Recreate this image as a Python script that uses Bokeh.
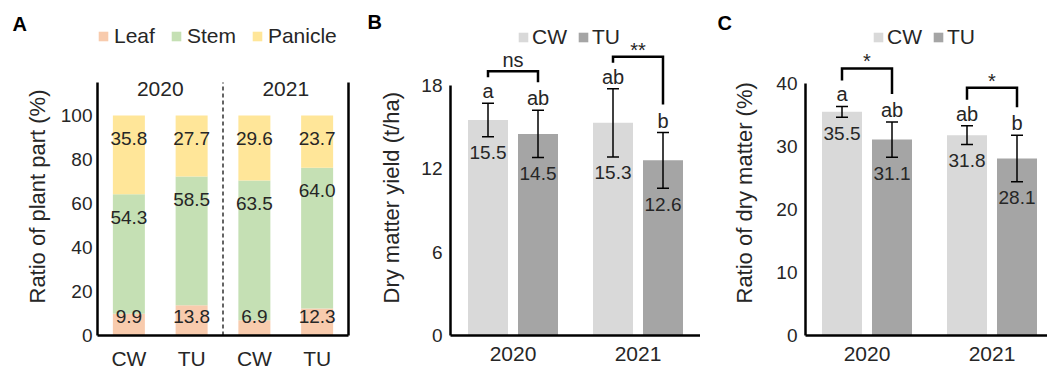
from bokeh.plotting import figure
from bokeh.layouts import row
from bokeh.models import FixedTicker, LinearAxis, Title, ColumnDataSource
from bokeh.core.properties import value
from bokeh.embed import file_html
from bokeh.resources import INLINE

FONT = "Liberation Sans"
TXT = "#262626"

# ---------------- Data ----------------
# Panel A: ratio of plant parts (%)
a_treatments = ["CW", "TU", "CW", "TU"]
a_year_of_bar = [0, 0, 1, 1]
a_years = ["2020", "2021"]
parts = ["Leaf", "Stem", "Panicle"]
leaf = [9.9, 13.8, 6.9, 12.3]
stem = [54.3, 58.5, 63.5, 64.0]
panicle = [35.8, 27.7, 29.6, 23.7]
a_ticks = [0, 20, 40, 60, 80, 100]
a_axis_max = 115

# Panel B: dry matter yield (t/ha)
years = ["2020", "2021"]
treatments = ["CW", "TU"]
yield_cw = [15.5, 15.3]
yield_tu = [14.5, 12.6]
yield_cw_err = [1.2, 2.45]
yield_tu_err = [1.7, 2.0]
yield_cw_letters = ["a", "ab"]
yield_tu_letters = ["ab", "b"]
yield_sig = ["ns", "**"]
b_ticks = [0, 6, 12, 18]

# Panel C: ratio of dry matter (%)
dm_cw = [35.5, 31.8]
dm_tu = [31.1, 28.1]
dm_cw_err = [0.85, 1.5]
dm_tu_err = [2.8, 3.7]
dm_cw_letters = ["a", "ab"]
dm_tu_letters = ["ab", "b"]
dm_sig = ["*", "*"]
c_ticks = [0, 10, 20, 30, 40]

part_colors = ["#F8CBAD", "#C5E0B4", "#FFE699"]
trt_colors = ["#D9D9D9", "#A5A5A5"]

H = 373
TOP = 24
BOTTOM = 38
FRAME_H = H - TOP - BOTTOM


def make_fig(width, left, right, xr, yr):
    p = figure(width=width, height=H, x_range=xr, y_range=yr,
               output_backend="svg", toolbar_location=None,
               min_border_left=left, min_border_right=right,
               min_border_top=TOP, min_border_bottom=BOTTOM)
    p.outline_line_color = None
    p.grid.visible = False
    p.background_fill_color = "white"
    p.border_fill_color = "white"
    return p


def style_axis(ax, size):
    ax.axis_line_width = 2.5
    ax.axis_line_color = "black"
    ax.major_tick_line_color = None
    ax.minor_tick_line_color = None
    ax.major_tick_out = 0
    ax.major_tick_in = 0
    ax.minor_tick_out = 0
    ax.minor_tick_in = 0
    ax.major_label_text_font = FONT
    ax.major_label_text_font_size = size
    ax.major_label_text_color = TXT


def style_xaxis(ax):
    style_axis(ax, "21px")
    ax.major_label_standoff = 11


def style_legend(lg, x, y, standoff, spacing):
    lg.orientation = "horizontal"
    lg.location = (x, y)
    lg.glyph_width = 12
    lg.glyph_height = 12
    lg.label_standoff = standoff
    lg.spacing = spacing
    lg.padding = 0
    lg.margin = 0
    lg.border_line_color = None
    lg.background_fill_alpha = 0
    lg.label_text_font = FONT
    lg.label_text_font_size = "21px"
    lg.label_text_color = TXT


def panel_letter(p, t, offset, standoff):
    p.add_layout(Title(text=t, align="left", offset=offset, standoff=standoff,
                       vertical_align="bottom", text_font=FONT, text_font_size="20px",
                       text_font_style="bold", text_color="black"), "above")


def y_title(p, t, standoff):
    p.add_layout(Title(text=t, align="left", offset=32, standoff=standoff,
                       vertical_align="bottom", text_font=FONT, text_font_size="22px",
                       text_font_style="normal", text_color=TXT), "left")


def txt(p, x, y, t, size, yoff, baseline="middle"):
    p.text(x=x, y=y, text=t, text_font=value(FONT), text_font_size=value(size),
           text_color=TXT, text_align="center", text_baseline=baseline, y_offset=yoff)


# ---------------- Panel A ----------------
A_PPU = 2.2
pA = make_fig(350, 97, 2, (-0.5, 3.5), (0, FRAME_H / A_PPU))
xa = list(range(len(leaf)))
srcA = ColumnDataSource(dict(x=xa, Leaf=leaf, Stem=stem, Panicle=panicle))
pA.vbar_stack(parts, x="x", width=0.51, source=srcA, fill_color=part_colors,
              line_color=None, legend_label=parts)

stem_top = [l + s for l, s in zip(leaf, stem)]
pan_top = [l + s + q for l, s, q in zip(leaf, stem, panicle)]
txt(pA, xa, [0] * len(xa), [f"{v:.1f}" for v in leaf], "19px", -19)
txt(pA, xa, stem_top, [f"{v:.1f}" for v in stem], "19px", 23)
txt(pA, xa, pan_top, [f"{v:.1f}" for v in panicle], "19px", 23)

# year labels and separator
yx = [sum(x for x, g in zip(xa, a_year_of_bar) if g == k) / a_year_of_bar.count(k)
      for k in range(len(a_years))]
txt(pA, yx, [a_axis_max] * len(yx), a_years, "21px", 6)
sep = (yx[0] + yx[1]) / 2
pA.segment(x0=[sep], y0=[0], x1=[sep], y1=[a_axis_max], line_color="#303030",
           line_width=1.5, line_dash="4 3")

pA.yaxis.bounds = (0, a_axis_max)
pA.yaxis.ticker = FixedTicker(ticks=a_ticks)
style_axis(pA.yaxis[0], "19px")
pA.yaxis.major_label_standoff = 5
pA.xaxis.ticker = FixedTicker(ticks=xa)
pA.xaxis.major_label_overrides = {i: t for i, t in enumerate(a_treatments)}
style_xaxis(pA.xaxis[0])
rax = LinearAxis(bounds=(0, a_axis_max), ticker=FixedTicker(ticks=[]))
style_axis(rax, "19px")
rax.major_label_standoff = 0
pA.add_layout(rax, "right")
style_legend(pA.legend[0], 0, 287, 5, 15)
panel_letter(pA, "A", -85, -20)
y_title(pA, "Ratio of plant part (%)", 16)


# ---------------- Panels B & C ----------------
OFF = 0.2
BW = 0.32


def bar_panel(width, left, xr, ppu, cw, tu, cw_err, tu_err, cw_let, tu_let,
              sig, ticks, title, title_standoff, gap_px, letter, letter_off,
              letter_standoff):
    p = make_fig(width, left, 0, xr, (0, FRAME_H / ppu))
    gx = list(range(len(years)))
    x_cw = [k - OFF for k in gx]
    x_tu = [k + OFF for k in gx]
    p.vbar(x=x_cw, top=cw, width=BW, fill_color=trt_colors[0], line_color=None,
           legend_label=treatments[0])
    p.vbar(x=x_tu, top=tu, width=BW, fill_color=trt_colors[1], line_color=None,
           legend_label=treatments[1])

    xs = x_cw + x_tu
    means = cw + tu
    errs = cw_err + tu_err
    hi = [m + e for m, e in zip(means, errs)]
    lo = [m - e for m, e in zip(means, errs)]
    p.segment(x0=xs, y0=lo, x1=xs, y1=hi, line_color="black", line_width=1.5)
    p.scatter(x=xs + xs, y=hi + lo, marker="dash", size=12, line_color="black",
              line_width=1.5)

    txt(p, xs, lo, [f"{v:.1f}" for v in means], "19px", 16)
    txt(p, xs, hi, cw_let + tu_let, "20px", -1, "bottom")

    bx, by, hy = [], [], []
    for i in gx:
        l = hi[i] + 26 / ppu
        r = hi[i + len(gx)] + 28 / ppu
        h = max(l, r) + gap_px / ppu
        bx.append([x_cw[i], x_cw[i], x_tu[i], x_tu[i]])
        by.append([l, h, h, r])
        hy.append(h)
    p.multi_line(xs=bx, ys=by, line_color="black", line_width=2.5, line_join="miter")
    for i in gx:
        txt(p, [gx[i]], [hy[i]], [sig[i]], "20px", -11 if sig[i] == "ns" else -7,
            "alphabetic")

    p.yaxis.bounds = (0, ticks[-1])
    p.yaxis.ticker = FixedTicker(ticks=ticks)
    style_axis(p.yaxis[0], "19px")
    p.yaxis.major_label_standoff = 8
    p.xaxis.ticker = FixedTicker(ticks=gx)
    p.xaxis.major_label_overrides = {i: y for i, y in enumerate(years)}
    style_xaxis(p.xaxis[0])
    style_legend(p.legend[0], 67, 286, 3, 10)
    panel_letter(p, letter, letter_off, letter_standoff)
    y_title(p, title, title_standoff)
    return p


pB = bar_panel(350, 100, (-0.5, 1.5), 13.9, yield_cw, yield_tu, yield_cw_err,
               yield_tu_err, yield_cw_letters, yield_tu_letters, yield_sig, b_ticks,
               "Dry matter yield (t/ha)", 30, 6, "B", -83, -16)
pC = bar_panel(347, 105, (-0.492, -0.492 + 242 / 125), 6.3, dm_cw, dm_tu,
               dm_cw_err, dm_tu_err, dm_cw_letters, dm_tu_letters, dm_sig, c_ticks,
               "Ratio of dry matter (%)", 33, 12, "C", -88, -19)

layout = row(pA, pB, pC)
open("out.html", "w").write(file_html(layout, INLINE))
